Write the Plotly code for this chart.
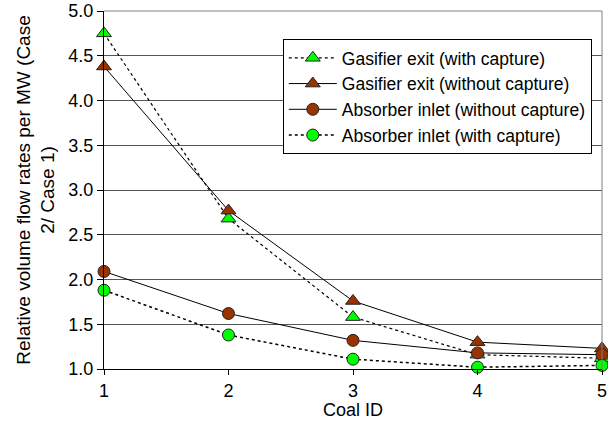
import plotly.graph_objects as go

coal_id = [1, 2, 3, 4, 5]
gasifier_with = [4.75, 2.68, 1.58, 1.16, 1.12]
gasifier_without = [4.38, 2.77, 1.76, 1.30, 1.23]
absorber_without = [2.09, 1.62, 1.32, 1.18, 1.16]
absorber_with = [1.88, 1.38, 1.11, 1.02, 1.04]

GREEN = "#00FF00"
BROWN = "#993300"

fig = go.Figure()
series = [
    ("Gasifier exit (with capture)", gasifier_with, "triangle-up", GREEN, "dot", 1.2),
    ("Gasifier exit (without capture)", gasifier_without, "triangle-up", BROWN, "solid", 1),
    ("Absorber inlet (without capture)", absorber_without, "circle", BROWN, "solid", 1),
    ("Absorber inlet (with capture)", absorber_with, "circle", GREEN, "dot", 1.5),
]
for name, vals, sym, col, dash, w in series:
    fig.add_trace(go.Scatter(
        x=coal_id, y=vals, name=name, mode="lines+markers",
        line=dict(color="black", width=w, dash=dash),
        marker=dict(symbol=sym, color=col, size=12 if sym == "circle" else 13,
                    line=dict(color="#222", width=1)),
        cliponaxis=False,
    ))

fig.add_shape(type="line", xref="paper", yref="paper", x0=1, x1=1, y0=0, y1=1,
              line=dict(color="#808080", width=1))
fig.add_shape(type="line", xref="paper", yref="paper", x0=0, x1=1, y0=1, y1=1,
              line=dict(color="#808080", width=1))

fig.add_annotation(text="Coal ID", xref="paper", yref="paper", x=0.5, y=0,
                   xanchor="center", yanchor="middle", yshift=-41, showarrow=False,
                   font=dict(size=18))

FONT = "Liberation Sans, Arial, sans-serif"
fig.update_layout(
    width=608, height=423,
    margin=dict(l=104, r=6, t=11, b=54, autoexpand=False),
    paper_bgcolor="white", plot_bgcolor="white",
    font=dict(family=FONT, size=17, color="black"),
    showlegend=True,
    legend=dict(x=0.359, y=0.922, xanchor="left", yanchor="top",
                bgcolor="white", bordercolor="black", borderwidth=1,
                font=dict(size=17.5), tracegroupgap=0, itemwidth=48,
                entrywidth=300, entrywidthmode="pixels"),
    xaxis=dict(range=[1, 5], tickvals=coal_id, ticks="outside", ticklen=5,
               tickcolor="black", showline=True, linecolor="black", linewidth=1,
               showgrid=False, zeroline=False, automargin=False,
               tickfont=dict(size=18)),
    yaxis=dict(range=[1, 5], dtick=0.5, tickformat=".1f", ticks="outside", ticklen=6,
               tickcolor="black", showline=True, linecolor="black", linewidth=1,
               showgrid=True, gridcolor="#555", gridwidth=1, zeroline=False,
               automargin=False, tickfont=dict(size=18), ticklabeloverflow="allow",
               title=dict(text="Relative volume flow rates per MW (Case<br>2/ Case 1)",
                          standoff=8, font=dict(size=19))),
)

fig.write_html("out.html", config={"displayModeBar": False},
               post_script="document.body.style.margin='0';")
